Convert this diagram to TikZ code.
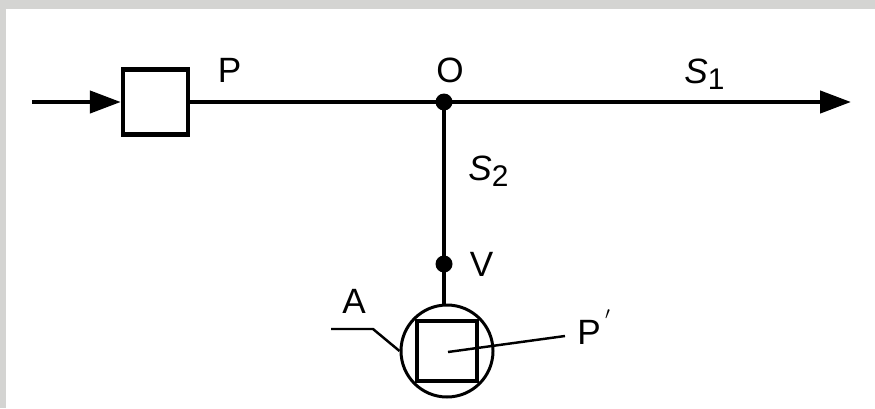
\documentclass[tikz,border=0pt]{standalone}
\usepackage{fontspec}
\setmainfont{Liberation Sans}
\usetikzlibrary{arrows.meta}
\definecolor{framegray}{RGB}{212,212,210}
\newcommand{\lowsub}[1]{\raisebox{-0.13cm}{\fontsize{17}{17}\selectfont #1}}
\tikzset{
    pipe/.style={line width=2.5pt},
    tip/.style={-{Triangle[length=0.62cm,width=0.44cm]}},
    joint/.style={circle,fill=black,inner sep=0pt,minimum size=0.34cm},
    lbl/.style={inner sep=0pt,font=\fontsize{20}{20}\selectfont},
    leader/.style={line width=1.4pt}
}
\begin{document}
\begin{tikzpicture}
    \useasboundingbox (0,0) rectangle (17.5,8.16);
    %frame
    \fill[framegray] (0,0) rectangle (17.5,8.16);
    \fill[white] (0.12,0) rectangle (17.5,7.98);
    %main line
    \coordinate (in) at (0.64,6.12);
    \coordinate (out) at (17.02,6.12);
    \node[draw,pipe,minimum size=1.3cm,inner sep=0pt] (box) at (3.11,6.12) {};
    \node[joint] (O) at (8.88,6.12) {};
    \draw[pipe,tip] (in) -- (box.west);
    \draw[pipe] (box.east) -- (O.center);
    \draw[pipe,tip] (O.center) -- (out);
    %branch
    \node[joint] (V) at (8.88,2.88) {};
    \node[draw,circle,line width=1.7pt,minimum size=1.84cm,inner sep=0pt] (cup) at (8.94,1.14) {};
    \node[draw,line width=1.9pt,minimum size=1.2cm,inner sep=0pt] (inner) at (8.94,1.14) {};
    \draw[pipe] (O.center) -- (V.center);
    \draw[pipe] (V.center) -- (V.center |- cup.north);
    %leaders
    \coordinate (Aend) at (6.62,1.58);
    \coordinate (Abend) at (7.46,1.58);
    \coordinate (Pend) at (11.3,1.44);
    \coordinate (Pstart) at (8.96,1.12);
    \draw[leader] (Aend) -- (Abend) -- (cup.west);
    \draw[leader] (Pstart) -- (Pend);
    %labels
    \node[lbl] (Plbl) at (4.59,6.76) {P};
    \node[lbl] (Olbl) at (9.0,6.75) {O};
    \node[lbl,anchor=base west] (Sa) at (13.68,6.5) {\textit{S}\lowsub{1}};
    \node[lbl,anchor=base west] (Sb) at (9.36,4.56) {\textit{S}\lowsub{2}};
    \node[lbl] (Vlbl) at (9.63,2.88) {V};
    \node[lbl] (Albl) at (7.08,2.14) {A};
    \node[lbl] (Pp) at (11.78,1.51) {P};
    \node[lbl] (prime) at (12.16,1.78) {\fontsize{14}{14}\selectfont$'$};
\end{tikzpicture}
\end{document}
